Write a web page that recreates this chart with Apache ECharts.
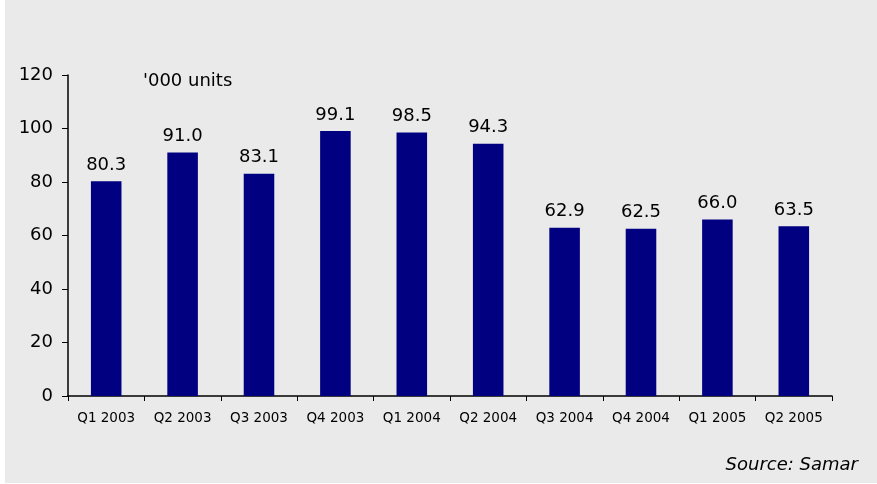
<!DOCTYPE html>
<html lang="en">
<head>
    <meta charset="UTF-8">
    <title>Quarterly units</title>
    <script src="https://cdn.jsdelivr.net/npm/echarts@6/dist/echarts.min.js"></script>
</head>
<style>
    html, body {
        margin: 0;
        padding: 0;
        background: #ffffff;
    }
    .box {
        position: absolute;
        left: 5px;
        top: 0;
        width: 872px;
        height: 483px;
        background: #eaeaea;
    }
</style>
<body>
    <div class="box" id="myChart"></div>
    <script>
        // 数据
        const categories = ['Q1 2003', 'Q2 2003', 'Q3 2003', 'Q4 2003', 'Q1 2004', 'Q2 2004', 'Q3 2004', 'Q4 2004', 'Q1 2005', 'Q2 2005'];
        const units = [80.3, 91.0, 83.1, 99.1, 98.5, 94.3, 62.9, 62.5, 66.0, 63.5];
        const yTicks = [0, 20, 40, 60, 80, 100, 120];

        const font = 'Tahoma, "DejaVu Sans", sans-serif';
        let myEchart = echarts.init(document.getElementById('myChart'));
        let option = {
            animation: false,
            textStyle: { fontFamily: font },
            title: [{
                text: "'000 units",
                left: 133,
                top: 67,
                textStyle: { fontSize: 18, fontWeight: 'normal', color: '#000', fontFamily: font }
            }, {
                text: 'Source: Samar',
                right: 14,
                top: 451,
                textStyle: { fontSize: 18, fontWeight: 'normal', fontStyle: 'italic', color: '#000', fontFamily: font }
            }],
            grid: {
                left: 63,
                right: 45,
                top: 75,
                bottom: 87
            },
            xAxis: {
                type: 'category',
                data: categories,
                axisLine: { lineStyle: { color: '#000', width: 1.5 } },
                axisTick: { show: true, interval: 0, length: 5, lineStyle: { color: '#000' } },
                axisLabel: { color: '#000', fontSize: 13.5, interval: 0, margin: 15, fontFamily: font }
            },
            yAxis: {
                type: 'value',
                min: yTicks[0],
                max: yTicks[yTicks.length - 1],
                interval: 20,
                axisLine: { show: true, lineStyle: { color: '#000', width: 1.5 } },
                axisTick: { show: true, length: 6, lineStyle: { color: '#000' } },
                axisLabel: { color: '#000', fontSize: 18, margin: 15, fontFamily: font },
                splitLine: { show: false }
            },
            series: [{
                type: 'bar',
                data: units,
                barWidth: '40%',
                itemStyle: { color: '#000080' },
                label: {
                    show: true,
                    position: 'top',
                    distance: 7,
                    color: '#000',
                    fontSize: 18,
                    fontFamily: font,
                    formatter: p => p.value.toFixed(1)
                }
            }]
        };
        myEchart.setOption(option, true);
    </script>
</body>
</html>
